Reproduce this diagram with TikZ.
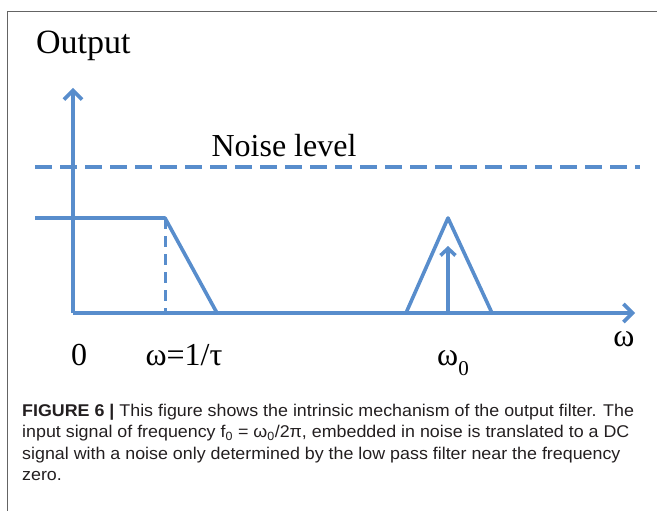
\documentclass[tikz,border=0pt]{standalone}
\usepackage{fontspec}
\setmainfont{Liberation Serif}
\newfontfamily\capfont[FakeStretch=1.05]{Liberation Sans}
\usetikzlibrary{arrows.meta}
\definecolor{lblue}{RGB}{88,141,204}
\definecolor{captxt}{RGB}{35,31,32}
\definecolor{framegray}{RGB}{100,100,100}
\tikzset{
  curve/.style={draw=lblue, line width=3.6pt},
  axisline/.style={curve, -{Straight Barb[length=9pt,width=18pt,line width=3.6pt]}},
  dashline/.style={curve, dash pattern=on 17pt off 8pt},
  vdash/.style={draw=lblue, line width=3pt, dash pattern=on 11pt off 7pt},
  lbl/.style={font=\fontsize{32}{36}\selectfont, text=black, inner sep=0pt},
  capline/.style={font=\capfont\fontsize{17}{20}\selectfont, text=captxt, anchor=base west, inner sep=0pt}
}
\begin{document}
\begin{tikzpicture}[x=1pt,y=-1pt]
\useasboundingbox (0,0) rectangle (657,511);
% frame
\draw[framegray, line width=1pt] (7.5,511) -- (7.5,12) -- (657,12);
% coordinates
\coordinate (O) at (73,313);
\coordinate (ytip) at (73,88);
\coordinate (xtip) at (635,313);
\coordinate (lpstart) at (35,218);
\coordinate (lpcorner) at (165,218);
\coordinate (lpfoot) at (165,313);
\coordinate (lpend) at (217,313);
\coordinate (nstart) at (35,167);
\coordinate (nend) at (640,167);
\coordinate (tl) at (406,313);
\coordinate (tapex) at (448,218);
\coordinate (tr) at (492,313);
\coordinate (abase) at (448,313);
\coordinate (atip) at (448,246);
% axes
\draw[axisline] (O) -- (ytip);
\draw[axisline] (O) -- (xtip);
% noise level
\draw[dashline] (nstart) -- (nend);
\node[lbl, anchor=base] (noise) at (284,157) {Noise level};
% low pass
\draw[curve, line join=round] (lpstart) -- (lpcorner) -- (lpend);
\draw[vdash] (lpcorner) -- (lpfoot);
% triangle
\draw[curve, line join=round] (tl) -- (tapex) -- (tr);
\draw[curve, -{Straight Barb[length=7pt,width=15pt,line width=3.6pt]}] (abase) -- (atip);
% labels
\node[lbl, anchor=base west, font=\fontsize{34}{38}\selectfont] (out) at (36,54) {Output};
\node[lbl, anchor=base] (zero) at (79,365) {0};
\node[lbl, anchor=base] (cut) at (184,365) {ω=1/τ};
\node[lbl, anchor=base] (w0) at (453,365) {ω\raisebox{-10pt}{\fontsize{21}{23}\selectfont 0}};
\node[lbl, anchor=base] (w) at (624,346) {ω};
% caption
\node[capline] (c1) at (22,416) {\textbf{FIGURE 6 |} This figure shows the intrinsic mechanism of the output filter. The};
\node[capline] (c2) at (22,437.5) {input signal of frequency f\textsubscript{0} = ω\textsubscript{0}/2π, embedded in noise is translated to a DC};
\node[capline] (c3) at (22,459) {signal with a noise only determined by the low pass filter near the frequency};
\node[capline] (c4) at (22,480.5) {zero.};
\end{tikzpicture}
\end{document}
